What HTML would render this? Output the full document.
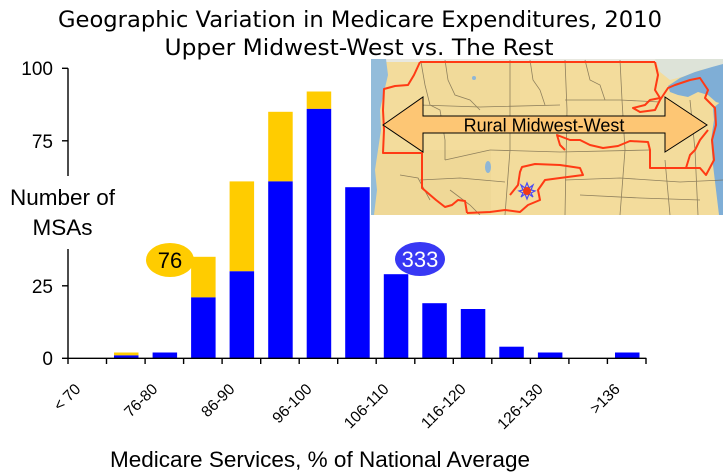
<!DOCTYPE html>
<html>
<head>
<meta charset="utf-8">
<style>
html,body{margin:0;padding:0;background:#fff;}
svg{display:block;}
</style>
</head>
<body>
<svg width="723" height="475" viewBox="0 0 723 475" xmlns="http://www.w3.org/2000/svg">
<rect width="723" height="475" fill="#fff"/>

<!-- Title -->
<text x="360" y="27" text-anchor="middle" font-family="DejaVu Sans, sans-serif" font-size="22" textLength="604" lengthAdjust="spacingAndGlyphs" fill="#000">Geographic Variation in Medicare Expenditures, 2010</text>
<text x="359" y="55" text-anchor="middle" font-family="DejaVu Sans, sans-serif" font-size="22" textLength="389" lengthAdjust="spacingAndGlyphs" fill="#000">Upper Midwest-West vs. The Rest</text>

<!-- Bars -->
<g>
<rect x="114" y="352.5" width="24.5" height="2.9" fill="#FFCC00"/>
<rect x="114" y="355.4" width="24.5" height="2.9" fill="#0000FF"/>
<rect x="152.6" y="352.5" width="24.5" height="5.8" fill="#0000FF"/>
<rect x="191.1" y="256.8" width="24.5" height="40.6" fill="#FFCC00"/>
<rect x="191.1" y="297.4" width="24.5" height="60.9" fill="#0000FF"/>
<rect x="229.6" y="181.4" width="24.5" height="89.9" fill="#FFCC00"/>
<rect x="229.6" y="271.3" width="24.5" height="87" fill="#0000FF"/>
<rect x="268.2" y="111.8" width="24.5" height="69.6" fill="#FFCC00"/>
<rect x="268.2" y="181.4" width="24.5" height="176.9" fill="#0000FF"/>
<rect x="306.7" y="91.5" width="24.5" height="17.4" fill="#FFCC00"/>
<rect x="306.7" y="108.9" width="24.5" height="249.4" fill="#0000FF"/>
<rect x="345.2" y="187.2" width="24.5" height="171.1" fill="#0000FF"/>
<rect x="383.8" y="274.2" width="24.5" height="84.1" fill="#0000FF"/>
<rect x="422.3" y="303.2" width="24.5" height="55.1" fill="#0000FF"/>
<rect x="460.8" y="309" width="24.5" height="49.3" fill="#0000FF"/>
<rect x="499.3" y="346.7" width="24.5" height="11.6" fill="#0000FF"/>
<rect x="537.9" y="352.5" width="24.5" height="5.8" fill="#0000FF"/>
<rect x="615" y="352.5" width="24.5" height="5.8" fill="#0000FF"/>
</g>

<!-- Axes -->
<g stroke="#000" stroke-width="1.4" fill="none">
<line x1="68" y1="68.3" x2="68" y2="358.3"/>
<line x1="67.3" y1="358.3" x2="646.3" y2="358.3"/>
<line x1="62" y1="68.3" x2="68" y2="68.3"/>
<line x1="62" y1="140.8" x2="68" y2="140.8"/>
<line x1="62" y1="213.3" x2="68" y2="213.3"/>
<line x1="62" y1="285.8" x2="68" y2="285.8"/>
<line x1="62" y1="358.3" x2="68" y2="358.3"/>
<line x1="68" y1="358" x2="68" y2="364"/>
<line x1="106.5" y1="358" x2="106.5" y2="364"/>
<line x1="145.1" y1="358" x2="145.1" y2="364"/>
<line x1="183.6" y1="358" x2="183.6" y2="364"/>
<line x1="222.1" y1="358" x2="222.1" y2="364"/>
<line x1="260.7" y1="358" x2="260.7" y2="364"/>
<line x1="299.2" y1="358" x2="299.2" y2="364"/>
<line x1="337.7" y1="358" x2="337.7" y2="364"/>
<line x1="376.2" y1="358" x2="376.2" y2="364"/>
<line x1="414.8" y1="358" x2="414.8" y2="364"/>
<line x1="453.3" y1="358" x2="453.3" y2="364"/>
<line x1="491.8" y1="358" x2="491.8" y2="364"/>
<line x1="530.4" y1="358" x2="530.4" y2="364"/>
<line x1="568.9" y1="358" x2="568.9" y2="364"/>
<line x1="607.4" y1="358" x2="607.4" y2="364"/>
<line x1="646" y1="358" x2="646" y2="364"/>
</g>

<!-- Y tick labels -->
<g font-family="Liberation Sans, Arial, sans-serif" font-size="19" fill="#000" text-anchor="end">
<text x="53" y="75">100</text>
<text x="53" y="148">75</text>
<text x="53" y="293">25</text>
<text x="53" y="365">0</text>
</g>

<!-- Y axis title with white background -->
<rect x="4" y="176" width="112" height="73" fill="#fff"/>
<g font-family="Liberation Sans, Arial, sans-serif" font-size="22.5" fill="#000" text-anchor="middle">
<text x="62.5" y="205">Number of</text>
<text x="62.5" y="235">MSAs</text>
</g>

<!-- X tick labels -->
<g font-family="Liberation Sans, Arial, sans-serif" font-size="15.5" fill="#000" text-anchor="end">
<text transform="translate(81.5,390) rotate(-45)">&lt; 70</text>
<text transform="translate(158.5,390) rotate(-45)">76-80</text>
<text transform="translate(235.6,390) rotate(-45)">86-90</text>
<text transform="translate(312.7,390) rotate(-45)">96-100</text>
<text transform="translate(389.7,390) rotate(-45)">106-110</text>
<text transform="translate(466.8,390) rotate(-45)">116-120</text>
<text transform="translate(543.9,390) rotate(-45)">126-130</text>
<text transform="translate(620.9,390) rotate(-45)">&gt;136</text>
</g>

<!-- X axis title -->
<text x="110" y="467" font-family="Liberation Sans, Arial, sans-serif" font-size="22.5" textLength="420" lengthAdjust="spacingAndGlyphs" fill="#000">Medicare Services, % of National Average</text>

<!-- Ellipse callouts -->
<ellipse cx="170" cy="260" rx="24" ry="17" fill="#FFCC00"/>
<text x="170" y="268" text-anchor="middle" font-family="Liberation Sans, Arial, sans-serif" font-size="22" fill="#000">76</text>
<ellipse cx="420" cy="259" rx="25" ry="17" fill="#3838F4"/>
<text x="420" y="267" text-anchor="middle" font-family="Liberation Sans, Arial, sans-serif" font-size="22" fill="#fff">333</text>

<!-- Map -->
<svg x="371" y="59" width="352" height="156" viewBox="371 59 352 156">
<rect x="371" y="59" width="352" height="156" fill="#F3DC9C"/>
<rect x="371" y="150" width="120" height="65" fill="#EDD595" opacity="0.6"/>
<rect x="430" y="60" width="90" height="50" fill="#EFD898" opacity="0.5"/>
<rect x="371" y="59" width="352" height="3" fill="#E8E8E0"/>
<polygon points="371,59 386,59 388,75 384,92 380,110 381,130 378,150 375,170 377,190 374,215 371,215" fill="#93BCDA"/>
<polygon points="655,59 723,59 723,66 700,70 685,76 670,80 660,72" fill="#DDE3D8"/>
<polygon points="668,86 680,78 695,72 712,67 723,64 723,104 716,102 708,95 698,92 688,97 678,95 670,92" fill="#7FAED6"/>
<polygon points="713,108 723,100 723,215 719,215 716,190 713,165 711,140 714,120" fill="#7FAED6"/>
<ellipse cx="488" cy="167" rx="3" ry="6" fill="#8FB6D6"/>
<ellipse cx="474" cy="78" rx="2" ry="2" fill="#8FB6D6"/>

<g stroke="#6E6248" stroke-width="0.8" fill="none" opacity="0.75">
<polyline points="421,62 425,85 430,105 440,110 445,140 445,160"/>
<polyline points="445,60 448,80 455,95 470,100 480,110"/>
<polyline points="420,105 480,107 560,105"/>
<polyline points="510,60 510,150 505,215"/>
<polyline points="565,60 567,110 565,215"/>
<polyline points="490,150 560,152 650,150"/>
<polyline points="565,100 620,100 660,102"/>
<polyline points="620,60 622,100 625,150 620,215"/>
<polyline points="445,160 490,150"/>
<polyline points="420,180 460,178 505,182"/>
<polyline points="565,180 620,178 680,182 723,180"/>
<polyline points="665,160 670,215"/>
<polyline points="690,100 695,150 698,215"/>
<polyline points="530,60 533,80 540,90 545,105"/>
<polyline points="585,60 590,80 600,85 605,100"/>
<polyline points="470,125 520,128 555,130"/>
<polyline points="580,195 640,198 700,200"/>
<polyline points="400,175 418,178 430,200"/>
<polyline points="450,190 470,205 480,215"/>
</g>

<g stroke="#FF3A14" stroke-width="2" fill="none" stroke-linejoin="round">
<polyline points="420,62 655,62"/>
<polyline points="420,62 414,75 408,85 395,86 384,89 383,110 384,130 383,153 422,153 422,188 436,200 445,207 452,205 458,200 465,201 467,213"/>
<polyline points="467,213 490,212 505,210 520,212 528,205 540,200 538,190 545,180 560,178 583,175 580,168 560,165 535,164 522,167 520,172 518,185 510,195"/>
<polyline points="655,62 658,75 655,90 660,98 650,100 645,105 633,108 640,112 655,110 660,100 668,88 675,85 690,80 700,78 708,90 705,98 715,108 716,125 712,140 714,160 706,175 700,168 686,168 650,168 650,150 648,142 630,141 618,146 603,148 590,145 580,140 570,140 557,135 560,145 565,150"/>
<polyline points="686,168 690,155 695,150 700,140 708,130"/>
</g>

<g transform="translate(527,191)">
<polygon points="0,-8 2,-3 6,-6 4,-1 8,0 4,2 6,6 2,3 0,8 -2,3 -6,6 -4,2 -8,0 -4,-1 -6,-6 -2,-3" fill="none" stroke="#4A4AF5" stroke-width="1.2"/>
<circle cx="0" cy="0" r="4" fill="#F23A14"/>
</g>

<polygon points="383,125 423,97 423,116 665,116 665,97 707,125 665,152 665,133 423,133 423,152" fill="#FDC674" stroke="#000" stroke-width="1"/>
<text x="544" y="131.5" text-anchor="middle" font-family="Liberation Sans, Arial, sans-serif" font-size="18" fill="#000">Rural Midwest-West</text>
</svg>
</svg>
</body>
</html>
